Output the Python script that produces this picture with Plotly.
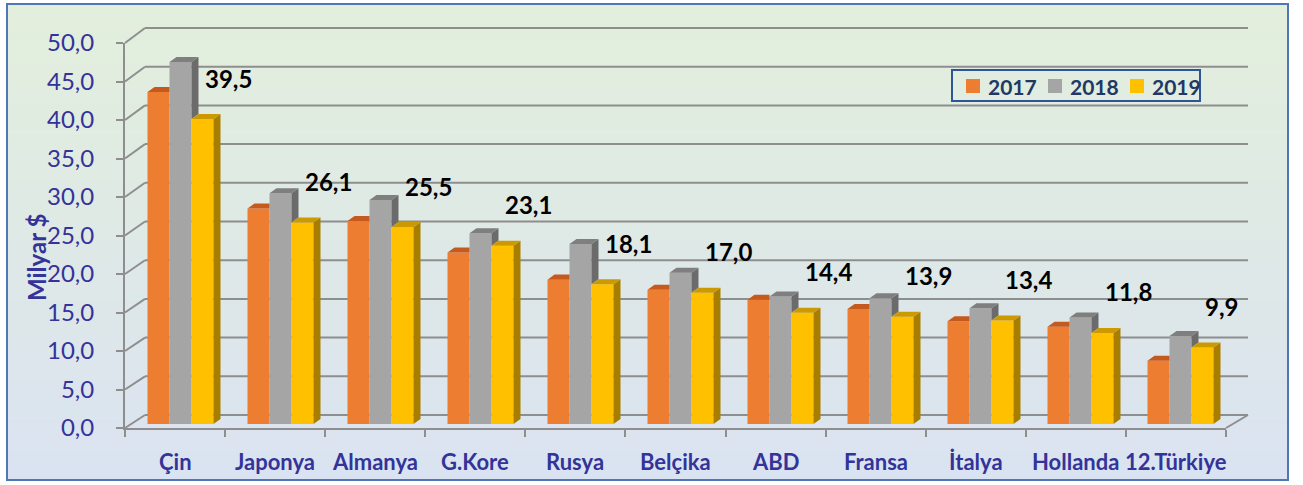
import base64
import struct
import zlib

import plotly.graph_objects as go

# ---------------- data ----------------
categories = ["Çin", "Japonya", "Almanya", "G.Kore", "Rusya", "Belçika",
              "ABD", "Fransa", "İtalya", "Hollanda", "12.Türkiye"]
series_names = ["2017", "2018", "2019"]
values_2017 = [43.0, 27.9, 26.3, 22.2, 18.7, 17.4, 16.1, 14.9, 13.3, 12.6, 8.2]
values_2018 = [46.9, 29.9, 29.0, 24.7, 23.3, 19.6, 16.5, 16.3, 15.0, 13.8, 11.4]
values_2019 = [39.5, 26.1, 25.5, 23.1, 18.1, 17.0, 14.4, 13.9, 13.4, 11.8, 9.9]
y_ticks = [0, 5, 10, 15, 20, 25, 30, 35, 40, 45, 50]
y_title = "Milyar $"

# ---------------- styles ----------------
W, H = 1303, 485
FONT = "Lato"
TEXT_BLUE = "#333399"
LEGEND_TEXT = "#1F3864"
GRID = "#8E8E8E"
front_colors = ["#ED7D31", "#A5A5A5", "#FFC000"]
top_colors = ["#C65A1E", "#7F7F7F", "#CC9A00"]
side_colors = ["#B45219", "#6B6B6B", "#A87E00"]

BAR_W = 0.22          # bar width in category units
DX = 0.07             # depth offset (x units)
DY = 0.65             # depth offset (y units)


def px_x(px):
    return px / W


def px_y(py):
    return 1 - py / H


def png_gradient(top, bottom, h=256):
    raw = b""
    for r in range(h):
        t = r / (h - 1)
        c = [round(top[k] + (bottom[k] - top[k]) * t) for k in range(3)]
        raw += b"\x00" + bytes(c)

    def chunk(tag, data):
        return (struct.pack(">I", len(data)) + tag + data
                + struct.pack(">I", zlib.crc32(tag + data) & 0xFFFFFFFF))

    ihdr = struct.pack(">IIBBBBB", 1, h, 8, 2, 0, 0, 0)
    png = (b"\x89PNG\r\n\x1a\n" + chunk(b"IHDR", ihdr)
           + chunk(b"IDAT", zlib.compress(raw)) + chunk(b"IEND", b""))
    return "data:image/png;base64," + base64.b64encode(png).decode()


all_values = [values_2017, values_2018, values_2019]
n = len(categories)
idx = list(range(n))

fig = go.Figure()

# front faces (real bars)
for k, (name, vals) in enumerate(zip(series_names, all_values)):
    fig.add_trace(go.Bar(
        x=idx, y=vals, name=name, width=BAR_W, offset=-1.5 * BAR_W + k * BAR_W,
        marker=dict(color=front_colors[k], line=dict(width=0)),
        xaxis="x", yaxis="y", showlegend=False,
        customdata=categories,
        hovertemplate="%{customdata}: %{y:.1f}<extra>" + name + "</extra>"))

# 3D top & side faces derived from the same values
for k in range(3):
    tx, ty, sx, sy = [], [], [], []
    for i in idx:
        h = all_values[k][i]
        xl = i - 1.5 * BAR_W + k * BAR_W
        xr = xl + BAR_W
        hn = all_values[k + 1][i] if k < 2 else 0.0
        if k < 2 and hn > h:
            tx += [xl, xr, xr, xl + DX, xl, None]
            ty += [h, h, h + DY, h + DY, h, None]
        else:
            tx += [xl, xr, xr + DX, xl + DX, xl, None]
            ty += [h, h, h + DY, h + DY, h, None]
        if h > hn:
            sx += [xr, xr, xr + DX, xr + DX, xr, None]
            sy += [hn, h, h + DY, hn + DY, hn, None]
    fig.add_trace(go.Scatter(x=sx, y=sy, fill="toself", mode="lines",
                             line=dict(width=0), fillcolor=side_colors[k],
                             showlegend=False, hoverinfo="skip",
                             xaxis="x", yaxis="y"))
    fig.add_trace(go.Scatter(x=tx, y=ty, fill="toself", mode="lines",
                             line=dict(width=0), fillcolor=top_colors[k],
                             showlegend=False, hoverinfo="skip",
                             xaxis="x", yaxis="y"))

# dummy trace to materialise the front axes
fig.add_trace(go.Scatter(x=[0], y=[0], mode="markers", marker=dict(opacity=0),
                         showlegend=False, hoverinfo="skip",
                         xaxis="x2", yaxis="y2"))

# ---------------- geometry of the walls ----------------
FRONT_X0, FRONT_X1 = 125, 1226
FRONT_Y0, FRONT_Y50 = 428, 43
BACK_X0, BACK_X1 = 145, 1248
BACK_Y0, BACK_Y50 = 415, 28


def front_py(v):
    return FRONT_Y0 + (FRONT_Y50 - FRONT_Y0) * v / 50


def back_py(v):
    return BACK_Y0 + (BACK_Y50 - BACK_Y0) * v / 50


shapes = []
for v in y_ticks:
    shapes.append(dict(type="line", xref="paper", yref="paper", layer="below",
                       x0=px_x(BACK_X0), x1=px_x(BACK_X1),
                       y0=px_y(back_py(v)), y1=px_y(back_py(v)),
                       line=dict(color=GRID, width=2)))
    shapes.append(dict(type="line", xref="paper", yref="paper", layer="below",
                       x0=px_x(FRONT_X0), x1=px_x(BACK_X0),
                       y0=px_y(front_py(v)), y1=px_y(back_py(v)),
                       line=dict(color=GRID, width=2)))
shapes.append(dict(type="line", xref="paper", yref="paper", layer="below",
                   x0=px_x(FRONT_X1), x1=px_x(BACK_X1),
                   y0=px_y(front_py(0)), y1=px_y(back_py(0)),
                   line=dict(color=GRID, width=2)))
# chart border
shapes.append(dict(type="rect", xref="paper", yref="paper", layer="above",
                   x0=px_x(7), x1=px_x(1288), y0=px_y(480), y1=px_y(4),
                   line=dict(color="#4F76B5", width=2), fillcolor="rgba(0,0,0,0)"))

annotations = []

# ---------------- legend (box, swatches, labels) ----------------
LEG_X0, LEG_X1, LEG_Y0, LEG_Y1 = 952, 1200, 70, 101
SW_X0, SW_STEP, SW_SIZE, SW_CY = 966, 82, 14, 86
shapes.append(dict(type="rect", xref="paper", yref="paper", layer="above",
                   x0=px_x(LEG_X0), x1=px_x(LEG_X1),
                   y0=px_y(LEG_Y1), y1=px_y(LEG_Y0),
                   line=dict(color="#2F5597", width=2),
                   fillcolor="rgba(0,0,0,0)"))
for k, name in enumerate(series_names):
    sx0 = SW_X0 + k * SW_STEP
    shapes.append(dict(type="rect", xref="paper", yref="paper", layer="above",
                       x0=px_x(sx0), x1=px_x(sx0 + SW_SIZE),
                       y0=px_y(SW_CY + SW_SIZE / 2), y1=px_y(SW_CY - SW_SIZE / 2),
                       line=dict(width=0), fillcolor=front_colors[k]))
    annotations.append(dict(
        x=px_x(sx0 + SW_SIZE + 6), y=px_y(SW_CY), xref="paper", yref="paper",
        text=name, showarrow=False, xanchor="left", yanchor="middle",
        font=dict(family=FONT, size=21, color=LEGEND_TEXT, weight="bold")))

# data labels for 2019
for i in idx:
    v = values_2019[i]
    annotations.append(dict(
        x=i - 1.5 * BAR_W + 2.5 * BAR_W, y=v, xref="x", yref="y",
        text=f"{v:.1f}".replace(".", ","), showarrow=False,
        xanchor="left", yanchor="middle", xshift=0, yshift=41,
        font=dict(family=FONT, size=24, color="#000000", weight="bold")))
# category labels
for i, c in enumerate(categories):
    annotations.append(dict(
        x=i + 0.5, y=px_y(461), xref="x2", yref="paper", text=c,
        showarrow=False, xanchor="center", yanchor="middle",
        font=dict(family=FONT, size=22, color=TEXT_BLUE, weight="bold")))
# y title
annotations.append(dict(
    x=px_x(36), y=px_y(258), xref="paper", yref="paper", text=y_title,
    textangle=-90, showarrow=False, xanchor="center", yanchor="middle",
    font=dict(family=FONT, size=24, color=TEXT_BLUE, weight="bold")))

fig.update_layout(
    width=W, height=H,
    margin=dict(l=0, r=0, t=0, b=0, autoexpand=False),
    paper_bgcolor="white", plot_bgcolor="rgba(0,0,0,0)",
    separators=",.",
    barmode="overlay",
    showlegend=False,
    xaxis=dict(domain=[px_x(130.5), px_x(1230.5)], range=[-0.5, n - 0.5],
               visible=False, anchor="y", fixedrange=True),
    yaxis=dict(domain=[px_y(424), px_y(38)], range=[0, 50],
               visible=False, anchor="x", fixedrange=True),
    xaxis2=dict(domain=[px_x(FRONT_X0), px_x(FRONT_X1)], range=[0, n],
                anchor="y2", tickvals=list(range(n + 1)), ticks="outside",
                ticklen=7, tickwidth=2, tickcolor=GRID, showticklabels=False,
                showline=True, linecolor=GRID, linewidth=2, showgrid=False,
                zeroline=False, fixedrange=True),
    yaxis2=dict(domain=[px_y(FRONT_Y0), px_y(FRONT_Y50)], range=[0, 50],
                anchor="x2", tickvals=y_ticks, tickformat=".1f",
                ticks="outside", ticklen=7, tickwidth=2, tickcolor=GRID,
                ticklabelstandoff=17,
                tickfont=dict(family=FONT, size=24, color=TEXT_BLUE),
                showline=True, linecolor=GRID, linewidth=2, showgrid=False,
                zeroline=False, fixedrange=True),
    images=[dict(source=png_gradient((227, 239, 220), (218, 227, 241)),
                 xref="paper", yref="paper", x=px_x(7), y=px_y(4),
                 sizex=px_x(1288) - px_x(7), sizey=px_y(4) - px_y(480),
                 xanchor="left", yanchor="top", sizing="stretch",
                 layer="below")],
    shapes=shapes,
    annotations=annotations,
)

fig.write_html(
    "out.html",
    config={"displayModeBar": False},
    post_script="document.body.style.margin='0';document.body.style.overflow='hidden';",
)
